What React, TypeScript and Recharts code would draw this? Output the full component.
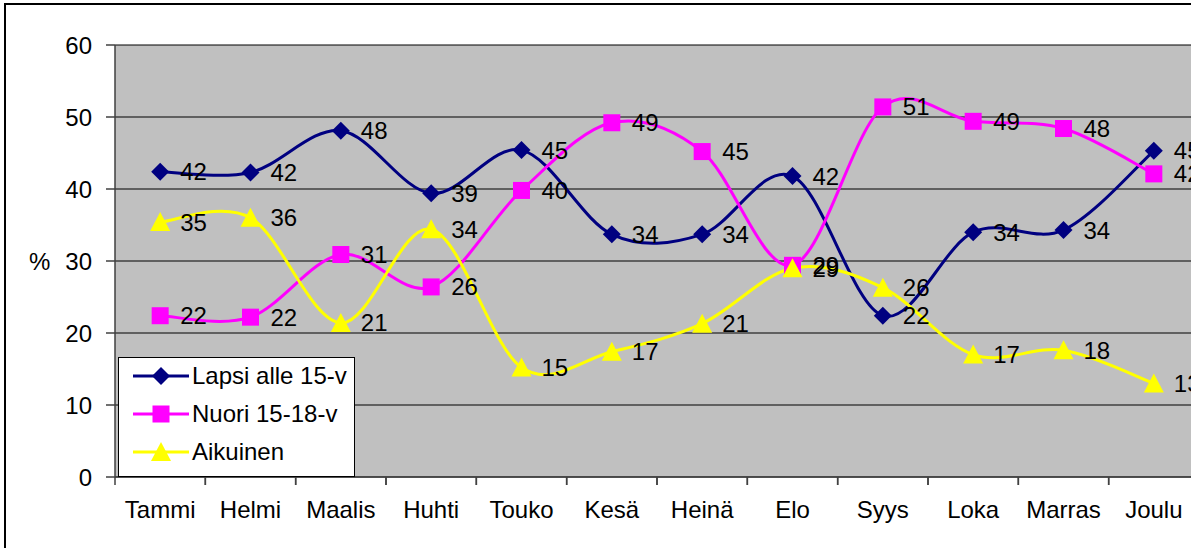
import { CartesianGrid, LabelList, Line, LineChart, XAxis, YAxis } from "recharts";

const months = ["Tammi", "Helmi", "Maalis", "Huhti", "Touko", "Kesä", "Heinä", "Elo", "Syys", "Loka", "Marras", "Joulu"];
const lapsi = [42.4, 42.3, 48.1, 39.4, 45.4, 33.7, 33.7, 41.8, 22.4, 34.0, 34.3, 45.3];
const nuori = [22.4, 22.2, 30.9, 26.4, 39.8, 49.2, 45.2, 29.4, 51.4, 49.4, 48.4, 42.1];
const aikuinen = [35.4, 36.0, 21.4, 34.4, 15.2, 17.4, 21.3, 29.0, 26.3, 17.0, 17.6, 13.0];
const yTicks = [0, 10, 20, 30, 40, 50, 60];

const series = [
  { key: "lapsi", name: "Lapsi alle 15-v", color: "#000080", shape: "diamond" },
  { key: "nuori", name: "Nuori 15-18-v", color: "#FF00FF", shape: "square" },
  { key: "aikuinen", name: "Aikuinen", color: "#FFFF00", shape: "triangle" },
];

const data = months.map((m, i) => ({ month: m, lapsi: lapsi[i], nuori: nuori[i], aikuinen: aikuinen[i] }));

const CHART_W = 1199;
const CHART_H = 548;
const Y_W = 115;
const BAND = (CHART_W - Y_W) / months.length;
const FONT = "'Liberation Sans', Arial, sans-serif";
const FS = 24;

// Excel-style smoothing (Catmull-Rom through the points)
const smoothCurve = (context: any) => {
  let pts: [number, number][] = [];
  return {
    areaStart() {},
    areaEnd() {},
    lineStart() {
      pts = [];
    },
    point(x: number, y: number) {
      pts.push([+x, +y]);
    },
    lineEnd() {
      const n = pts.length;
      if (!n) return;
      context.moveTo(pts[0][0], pts[0][1]);
      for (let i = 0; i < n - 1; i++) {
        const p0 = pts[Math.max(i - 1, 0)];
        const p1 = pts[i];
        const p2 = pts[i + 1];
        const p3 = pts[Math.min(i + 2, n - 1)];
        context.bezierCurveTo(
          p1[0] + (p2[0] - p0[0]) / 6,
          p1[1] + (p2[1] - p0[1]) / 6,
          p2[0] - (p3[0] - p1[0]) / 6,
          p2[1] - (p3[1] - p1[1]) / 6,
          p2[0],
          p2[1]
        );
      }
    },
  };
};

const Marker = ({ cx, cy, shape, color }: any) => {
  if (cx == null || cy == null) return null;
  if (shape === "diamond") {
    return <polygon points={`${cx},${cy - 9} ${cx + 9},${cy} ${cx},${cy + 9} ${cx - 9},${cy}`} fill={color} />;
  }
  if (shape === "square") {
    return <rect x={cx - 8.5} y={cy - 8.5} width={17} height={17} fill={color} />;
  }
  return <polygon points={`${cx},${cy - 10} ${cx + 10},${cy + 9} ${cx - 10},${cy + 9}`} fill={color} />;
};

const MonthTick = ({ x, y, payload }: any) => (
  <g>
    <line x1={x - BAND / 2} x2={x - BAND / 2} y1={y} y2={y + 8} stroke="#404040" strokeWidth={1.5} />
    <line x1={x + BAND / 2} x2={x + BAND / 2} y1={y} y2={y + 8} stroke="#404040" strokeWidth={1.5} />
    <text x={x} y={y + 41} textAnchor="middle" fill="#000" fontSize={FS} fontFamily={FONT}>
      {payload.value}
    </text>
  </g>
);

const LegendBox = () => (
  <div
    style={{
      position: "absolute",
      left: 118,
      top: 357,
      width: 235,
      height: 118,
      background: "#fff",
      border: "1px solid #000",
      fontFamily: FONT,
      fontSize: FS,
    }}
  >
    {series.map((s, i) => (
      <div key={s.key} style={{ position: "absolute", left: 0, top: 2 + i * 38, height: 32, display: "flex", alignItems: "center" }}>
        <svg width={73} height={32}>
          <line x1={14} x2={70} y1={16} y2={16} stroke={s.color} strokeWidth={3} />
          <Marker cx={42} cy={16} shape={s.shape} color={s.color} />
        </svg>
        <span style={{ color: "#000", whiteSpace: "nowrap" }}>{s.name}</span>
      </div>
    ))}
  </div>
);

export default function App() {
  return (
    <div style={{ position: "absolute", left: 0, top: 0, width: 1191, height: 548, overflow: "hidden", background: "#fff" }}>
      <div style={{ position: "absolute", left: 4, top: 3, width: 1300, height: 700, border: "2px solid #000" }} />
      <div style={{ position: "absolute", left: 0, top: 0 }}>
        <LineChart width={CHART_W} height={CHART_H} data={data} margin={{ top: 45, right: 0, bottom: 0, left: 0 }}>
          <CartesianGrid vertical={false} fill="#C0C0C0" stroke="#000" strokeWidth={1} />
          <XAxis
            dataKey="month"
            height={CHART_H - 45 - 432}
            padding={{ left: BAND / 2, right: BAND / 2 }}
            tickLine={false}
            tickSize={0}
            tickMargin={0}
            axisLine={{ stroke: "#404040", strokeWidth: 1.5 }}
            tick={<MonthTick />}
            interval={0}
          />
          <YAxis
            width={Y_W}
            domain={[0, 60]}
            ticks={yTicks}
            tickSize={9}
            tickMargin={14}
            axisLine={{ stroke: "#404040", strokeWidth: 1.5 }}
            tickLine={{ stroke: "#404040", strokeWidth: 1.5 }}
            tick={{ fill: "#000", fontSize: FS, fontFamily: FONT }}
            label={{ value: "%", position: "insideLeft", offset: 29, fill: "#000", fontSize: FS, fontFamily: FONT }}
          />
          {series.map((s) => (
            <Line
              key={s.key}
              dataKey={s.key}
              name={s.name}
              type={smoothCurve as any}
              stroke={s.color}
              strokeWidth={3}
              dot={(p: any) => <Marker key={`${s.key}-${p.index}`} cx={p.cx} cy={p.cy} shape={s.shape} color={s.color} />}
              activeDot={false}
              isAnimationActive={false}
            />
          ))}
          {series.map((s) => (
            <Line
              key={`${s.key}-labels`}
              dataKey={s.key}
              stroke="none"
              dot={false}
              activeDot={false}
              legendType="none"
              isAnimationActive={false}
            >
              <LabelList
                dataKey={s.key}
                position="right"
                offset={20}
                formatter={(v: any) => Math.round(Number(v))}
                fill="#000"
                fontSize={FS}
                fontFamily={FONT}
              />
            </Line>
          ))}
        </LineChart>
      </div>
      <LegendBox />
    </div>
  );
}
